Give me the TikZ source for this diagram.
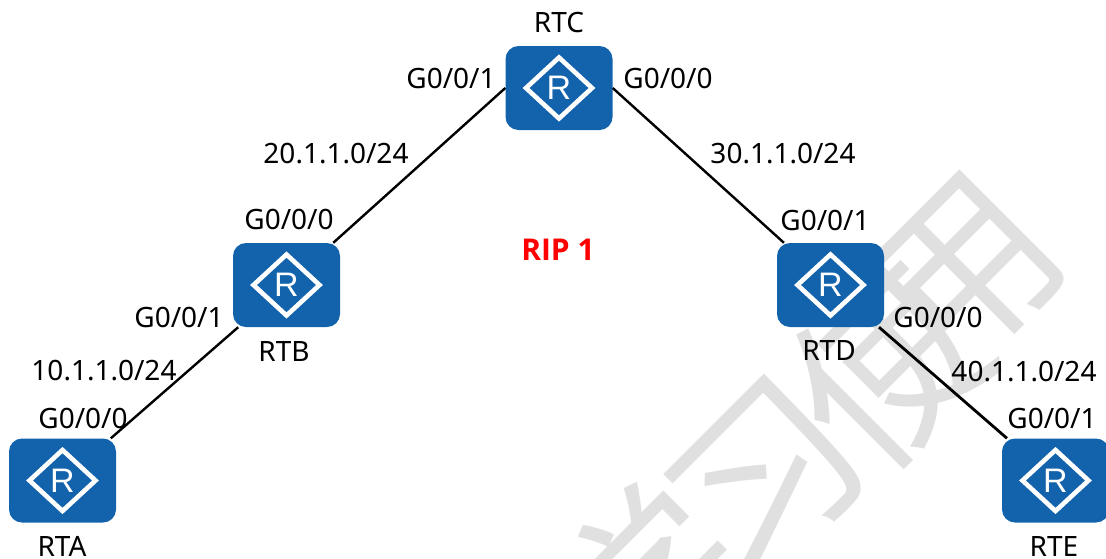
\documentclass[tikz,border=0pt]{standalone}
\usepackage{fontspec}
\setmainfont{Noto Sans}
\newfontfamily\cjk{Noto Sans CJK SC}
\newfontfamily\arialf{Liberation Sans}
\newfontfamily\ripf{Open Sans}
\definecolor{rblue}{HTML}{1262AC}
\definecolor{wm}{HTML}{E0E0E0}
\tikzset{
  router/.style={fill=rblue,rounded corners=13pt,minimum width=107pt,minimum height=84pt,inner sep=0pt,text=white,font=\arialf\fontsize{34}{34}\selectfont,
    path picture={\draw[white,line width=4.6pt,sharp corners,miter limit=10]
      ([xshift=-33pt]path picture bounding box.center)--([yshift=30.5pt]path picture bounding box.center)--([xshift=33pt]path picture bounding box.center)--([yshift=-30.5pt]path picture bounding box.center)--cycle;}},
  lbl/.style={font=\fontsize{28}{28}\selectfont,text=black,inner sep=0pt},
  link/.style={draw=black,line width=2.4pt},
  wmark/.style={font=\cjk\fontsize{185}{185}\selectfont,text=wm,rotate=45,inner sep=0pt}
}
\begin{document}
\begin{tikzpicture}[x=1pt,y=-1pt]
\useasboundingbox (0,0) rectangle (1106,558);
\clip (0,0) rectangle (1106,558);
\node[wmark] (w4) at (965,276) {用};
\node[wmark] (w3) at (886,367) {使};
\node[wmark] (w2) at (769,480) {习};
\node[wmark] (w1) at (645,585) {学};
\node[router] (rtc) at (559,88) {R};
\node[router] (rtb) at (286.5,285) {R};
\node[router] (rtd) at (830.5,285) {R};
\node[router] (rta) at (62.5,480.5) {R};
\node[router] (rte) at (1055.5,480.5) {R};
\draw[link] (rtc.west) -- (rtb);
\draw[link] (rtc.east) -- (rtd);
\draw[link] (rtb) -- (rta);
\draw[link,line width=2.8pt] (rtd) -- (rte);
\node[lbl] (lc) at (559,22) {RTC};
\node[lbl] (lb) at (284,351) {RTB};
\node[lbl] (ld) at (829,350) {RTD};
\node[lbl] (la) at (62,546) {RTA};
\node[lbl] (le) at (1054,546) {RTE};
\node[lbl] (p1) at (451,78) {G0/0/1};
\node[lbl] (p2) at (668,78) {G0/0/0};
\node[lbl] (p3) at (289,219) {G0/0/0};
\node[lbl] (p4) at (179,317) {G0/0/1};
\node[lbl] (p5) at (83,418) {G0/0/0};
\node[lbl] (p6) at (825,220) {G0/0/1};
\node[lbl] (p7) at (938,317) {G0/0/0};
\node[lbl] (p8) at (1052,418) {G0/0/1};
\node[lbl] (n1) at (336,154) {20.1.1.0/24};
\node[lbl] (n2) at (783,154) {30.1.1.0/24};
\node[lbl] (n3) at (104,371) {10.1.1.0/24};
\node[lbl] (n4) at (1024,372) {40.1.1.0/24};
\node[font=\ripf\bfseries\fontsize{30}{30}\selectfont,text=red,inner sep=0pt] (rip) at (558,250) {RIP 1};
\end{tikzpicture}
\end{document}
